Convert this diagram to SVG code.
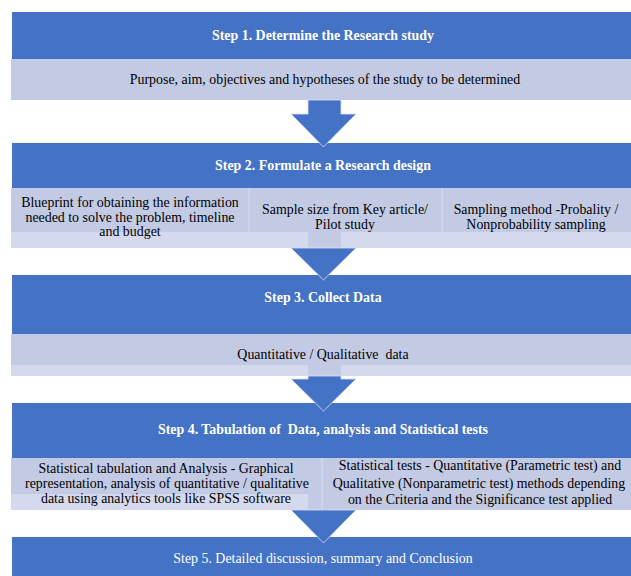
<svg xmlns="http://www.w3.org/2000/svg" width="631" height="576" viewBox="0 0 631 576" font-family="'Liberation Serif', 'Times New Roman', 'DejaVu Serif', serif">
<style>
.hd{fill:#4472C4}
.cl{fill:#C3CBE4}
.st{fill:#D4D9EE}
text{font-family:'Liberation Serif','Times New Roman','DejaVu Serif',serif;font-size:13.9px;text-anchor:middle;white-space:pre}
.ht{font-weight:bold;fill:#fff}
.h5{fill:#fff}
.tx{fill:#000}
.dv{stroke:#D6DCEF;stroke-width:1}
.ar{fill:#4472C4;stroke:#D9E0F2;stroke-width:0.8}
</style>
<rect width="631" height="576" fill="#fff"/>
<g id="step1">
<rect class="hd" x="12" y="12" width="619" height="47"/>
<text class="ht" x="323" y="40">Step 1. Determine the Research study</text>
<rect class="cl" x="11" y="59" width="620" height="41"/>
<text class="tx" x="325" y="84">Purpose, aim, objectives and hypotheses of the study to be determined</text>
</g>
<g id="step2">
<rect class="hd" x="12" y="143" width="619" height="45"/>
<text class="ht" x="323" y="170">Step 2. Formulate a Research design</text>
<rect class="cl" x="11" y="188" width="620" height="44"/>
<rect class="st" x="11" y="232" width="620" height="16"/>
<rect class="cl" x="308" y="232" width="33" height="16"/>
<line class="dv" x1="249" y1="188" x2="249" y2="248"/>
<line class="dv" x1="442" y1="188" x2="442" y2="248"/>
<text class="tx" x="130" y="207">Blueprint for obtaining the information</text>
<text class="tx" x="130" y="222">needed to solve the problem, timeline</text>
<text class="tx" x="130" y="236">and budget</text>
<text class="tx" x="345" y="214">Sample size from Key article/</text>
<text class="tx" x="345" y="229">Pilot study</text>
<text class="tx" x="536" y="214">Sampling method -Probality /</text>
<text class="tx" x="536" y="229">Nonprobability sampling</text>
</g>
<g id="step3">
<rect class="hd" x="12" y="275" width="619" height="59"/>
<text class="ht" x="323" y="302">Step 3. Collect Data</text>
<rect class="cl" x="11" y="334" width="620" height="31"/>
<rect class="st" x="11" y="365" width="620" height="11"/>
<rect class="cl" x="308" y="365" width="33" height="11"/>
<text class="tx" x="323" y="359" xml:space="preserve">Quantitative / Qualitative  data</text>
</g>
<g id="step4">
<rect class="hd" x="12" y="403" width="619" height="55"/>
<text class="ht" x="323" y="434" xml:space="preserve">Step 4. Tabulation of  Data, analysis and Statistical tests</text>
<rect class="cl" x="11" y="458" width="620" height="52"/>
<rect class="st" x="11" y="494" width="297" height="16"/>
<line class="dv" x1="322" y1="458" x2="322" y2="510"/>
<text class="tx" x="166" y="473">Statistical tabulation and Analysis - Graphical</text>
<text class="tx" x="167" y="488">representation, analysis of quantitative / qualitative</text>
<text class="tx" x="166" y="503">data using analytics tools like SPSS software</text>
<text class="tx" x="480" y="470">Statistical tests - Quantitative (Parametric test) and</text>
<text class="tx" x="479" y="488">Qualitative (Nonparametric test) methods depending</text>
<text class="tx" x="480" y="504">on the Criteria and the Significance test applied</text>
</g>
<g id="step5">
<rect class="hd" x="12" y="537" width="619" height="39"/>
<text class="h5" x="323" y="563">Step 5. Detailed discussion, summary and Conclusion</text>
</g>
<g id="connectors">
<path class="ar" d="M308,100 H341 V114 H356 L323.5,147 L291,114 H308 Z"/>
<path class="ar" d="M291,248 H356 L323.5,280 Z"/>
<path class="ar" d="M308,376 H341 V379 H356 L323.5,411 L291,379 H308 Z"/>
<path class="ar" d="M291,510 H356 L323.5,543 Z"/>
</g>
</svg>
